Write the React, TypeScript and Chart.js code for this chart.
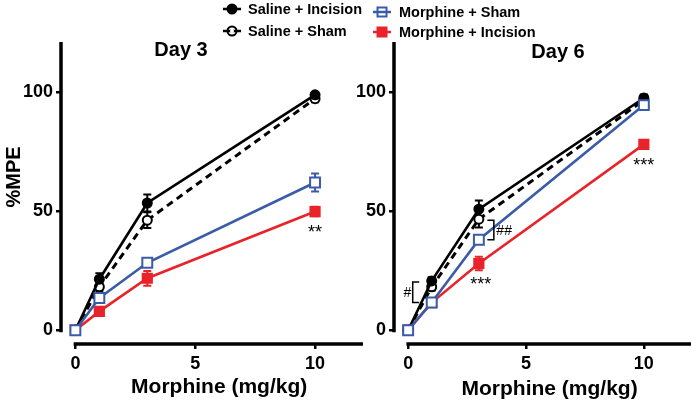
import React, { useEffect, useRef } from 'react';
import { Chart, registerables } from 'chart.js';

Chart.register(...registerables);

// ---------------- data ----------------
const doses = [0, 1, 3, 10];
const xTickValues = [0, 5, 10];
const yTickValues = [0, 50, 100];
const seriesLabels = ['Saline + Incision', 'Saline + Sham', 'Morphine + Sham', 'Morphine + Incision'];
const panelTitles = ['Day 3', 'Day 6'];
const xAxisTitle = 'Morphine (mg/kg)';
const yAxisTitle = '%MPE';

const day3SalineIncision = [0, 21.4, 53.4, 98.8];
const day3SalineIncisionSem = [0, 2.5, 3.6, 1.0];
const day3SalineSham = [0, 18.2, 46.2, 97.2];
const day3SalineShamSem = [0, 2.0, 3.3, 1.5];
const day3MorphineSham = [0, 13.5, 28.3, 62.0];
const day3MorphineShamSem = [0, 2.0, 1.5, 3.8];
const day3MorphineIncision = [0, 7.9, 21.8, 49.8];
const day3MorphineIncisionSem = [0, 1.2, 3.1, 2.0];

const day6SalineIncision = [0, 20.7, 50.8, 97.5];
const day6SalineIncisionSem = [0, 1.5, 3.7, 1.5];
const day6SalineSham = [0, 18.2, 46.6, 96.6];
const day6SalineShamSem = [0, 1.5, 3.5, 1.0];
const day6MorphineSham = [0, 11.6, 38.0, 94.5];
const day6MorphineShamSem = [0, 1.0, 1.5, 1.5];
const day6MorphineIncision = [0, 11.6, 28.0, 78.0];
const day6MorphineIncisionSem = [0, 1.0, 2.8, 1.0];

// significance marks under Morphine + Incision, one per dose
const day3Stars = ['', '', '', '**'];
const day6Stars = ['', '', '***', '***'];
// brackets: [dose index, upper series index, lower series index, label]
const day3Brackets: [number, number, number, string][] = [];
const day6Brackets: [number, number, number, string][] = [
  [1, 0, 2, '#'],
  [2, 1, 2, '##'],
];

// ---------------- styles ----------------
const BLUE = '#3a5ba8';
const RED = '#e8232a';
const FONT = '"Liberation Sans", Arial, Helvetica, sans-serif';
const X_MIN = -0.6;
const X_MAX = 12;
const Y_MIN = -5.8;
const Y_MAX = 121;

const seriesStyles = [
  { color: '#000', pointStyle: 'circle', radius: 4.5, fill: '#000', dash: [] as number[], lineWidth: 2.6, order: 1 },
  { color: '#000', pointStyle: 'circle', radius: 4.5, fill: '#fff', dash: [7, 5], lineWidth: 3, order: 2 },
  { color: BLUE, pointStyle: 'rect', radius: 7, fill: '#fff', dash: [] as number[], lineWidth: 2.6, order: 0 },
  { color: RED, pointStyle: 'rect', radius: 6.5, fill: RED, dash: [] as number[], lineWidth: 2.6, order: 3 },
];

type Panel = {
  title: string;
  values: number[][];
  sems: number[][];
  stars: string[];
  brackets: [number, number, number, string][];
  left: number;
  width: number;
  padRight: number;
  yAxisWidth: number;
  titleX: number;
  titleBaseline: number;
  xTitleBaseline: number;
  showYTitle: boolean;
  bracketSide: number[];
};

const panels: Panel[] = [
  {
    title: panelTitles[0],
    values: [day3SalineIncision, day3SalineSham, day3MorphineSham, day3MorphineIncision],
    sems: [day3SalineIncisionSem, day3SalineShamSem, day3MorphineShamSem, day3MorphineIncisionSem],
    stars: day3Stars,
    brackets: day3Brackets,
    left: 0,
    width: 380,
    padRight: 17,
    yAxisWidth: 61,
    titleX: 181,
    titleBaseline: 56,
    xTitleBaseline: 393,
    showYTitle: true,
    bracketSide: [],
  },
  {
    title: panelTitles[1],
    values: [day6SalineIncision, day6SalineSham, day6MorphineSham, day6MorphineIncision],
    sems: [day6SalineIncisionSem, day6SalineShamSem, day6MorphineShamSem, day6MorphineIncisionSem],
    stars: day6Stars,
    brackets: day6Brackets,
    left: 330,
    width: 370,
    padRight: 3,
    yAxisWidth: 64,
    titleX: 228,
    titleBaseline: 58,
    xTitleBaseline: 395,
    showYTitle: false,
    bracketSide: [-1, 1],
  },
];

function makePlugin(panel: Panel) {
  return {
    id: 'prismPanel',
    beforeDatasetsDraw(chart: any) {
      const { ctx, chartArea, scales } = chart;
      const x = scales.x;
      const y = scales.y;
      ctx.save();
      // axis lines
      ctx.strokeStyle = '#000';
      ctx.lineWidth = 3.5;
      ctx.beginPath();
      ctx.moveTo(chartArea.left, y.getPixelForValue(Y_MAX));
      ctx.lineTo(chartArea.left, y.getPixelForValue(0) + 2);
      ctx.moveTo(x.getPixelForValue(0) - 1.75, chartArea.bottom);
      ctx.lineTo(x.getPixelForValue(X_MAX), chartArea.bottom);
      ctx.stroke();
      // error bars
      chart.data.datasets.forEach((ds: any) => {
        const sem: number[] = ds.sem;
        ctx.strokeStyle = ds.borderColor;
        ctx.lineWidth = 2;
        ctx.setLineDash([]);
        ds.data.forEach((p: any, i: number) => {
          if (!sem[i]) return;
          const px = x.getPixelForValue(p.x);
          const top = y.getPixelForValue(p.y + sem[i]);
          const bot = y.getPixelForValue(p.y - sem[i]);
          const cap = 4;
          ctx.beginPath();
          ctx.moveTo(px, top);
          ctx.lineTo(px, bot);
          ctx.moveTo(px - cap, top);
          ctx.lineTo(px + cap, top);
          ctx.moveTo(px - cap, bot);
          ctx.lineTo(px + cap, bot);
          ctx.stroke();
        });
      });
      ctx.restore();
    },
    afterDraw(chart: any) {
      const { ctx, scales } = chart;
      const x = scales.x;
      const y = scales.y;
      ctx.save();
      ctx.fillStyle = '#000';
      // panel title
      ctx.font = `bold 20px ${FONT}`;
      ctx.textAlign = 'center';
      ctx.textBaseline = 'alphabetic';
      ctx.fillText(panel.title, panel.titleX, panel.titleBaseline);
      // x axis title
      ctx.font = `bold 21px ${FONT}`;
      ctx.fillText(xAxisTitle, x.getPixelForValue(6), panel.xTitleBaseline);
      // y axis title
      if (panel.showYTitle) {
        ctx.save();
        ctx.translate(20, 177);
        ctx.rotate(-Math.PI / 2);
        ctx.font = `bold 20px ${FONT}`;
        ctx.textAlign = 'center';
        ctx.fillText(yAxisTitle, 0, 0);
        ctx.restore();
      }
      // stars under Morphine + Incision
      ctx.font = `18px ${FONT}`;
      ctx.textAlign = 'center';
      const mi = panel.values[3];
      panel.stars.forEach((s, i) => {
        if (!s) return;
        const px = x.getPixelForValue(doses[i]) + (i === 2 ? 2 : 0);
        const py = y.getPixelForValue(mi[i]) + 16;
        ctx.fillText(s, px, py + 10.4);
      });
      // brackets
      ctx.strokeStyle = '#000';
      ctx.lineWidth = 1.5;
      ctx.font = `14px ${FONT}`;
      panel.brackets.forEach((b, k) => {
        const [di, hi, lo, label] = b;
        const side = panel.bracketSide[k];
        const px = x.getPixelForValue(doses[di]);
        const bx = side < 0 ? px - 19 : px + 15;
        const tick = side < 0 ? 6.5 : -6.5;
        const yTop = y.getPixelForValue(panel.values[hi][di]) + 1;
        const yBot = y.getPixelForValue(panel.values[lo][di]);
        ctx.beginPath();
        ctx.moveTo(bx + tick, yTop);
        ctx.lineTo(bx, yTop);
        ctx.lineTo(bx, yBot);
        ctx.lineTo(bx + tick, yBot);
        ctx.stroke();
        ctx.textAlign = side < 0 ? 'right' : 'left';
        const ty = (yTop + yBot) / 2 + 5;
        ctx.fillText(label, side < 0 ? bx - 1.5 : bx + 2.5, ty);
      });
      ctx.restore();
    },
  };
}

function makeConfig(panel: Panel): any {
  const datasets = panel.values.map((vals, si) => {
    const st = seriesStyles[si];
    return {
      label: seriesLabels[si],
      data: doses.map((d, i) => ({ x: d, y: vals[i] })),
      sem: panel.sems[si],
      order: st.order,
      showLine: true,
      borderColor: st.color,
      borderWidth: st.lineWidth,
      borderDash: st.dash,
      backgroundColor: st.fill,
      pointStyle: st.pointStyle,
      pointRadius: st.radius,
      pointBackgroundColor: st.fill,
      pointBorderColor: st.color,
      pointBorderWidth: 2,
      pointHoverRadius: st.radius,
      tension: 0,
      fill: false,
      clip: false,
    };
  });
  const tickFont = { family: FONT, size: 18, weight: 'bold' as const };
  const grid = {
    display: true,
    drawOnChartArea: false,
    drawTicks: true,
    tickLength: 5,
    color: '#000',
    lineWidth: 2.5,
  };
  return {
    type: 'line',
    data: { datasets },
    options: {
      animation: false,
      responsive: false,
      devicePixelRatio: 1,
      events: [],
      layout: { padding: { top: 42, right: panel.padRight, bottom: 0, left: 0 } },
      plugins: {
        legend: { display: false },
        tooltip: { enabled: false },
        title: { display: false },
      },
      scales: {
        x: {
          type: 'linear',
          min: X_MIN,
          max: X_MAX,
          afterBuildTicks: (s: any) => {
            s.ticks = xTickValues.map((v) => ({ value: v }));
          },
          afterFit: (s: any) => {
            s.height = 64;
          },
          grid,
          border: { display: false },
          ticks: { color: '#000', font: tickFont, padding: 4, maxRotation: 0, autoSkip: false },
        },
        y: {
          type: 'linear',
          min: Y_MIN,
          max: Y_MAX,
          afterBuildTicks: (s: any) => {
            s.ticks = yTickValues.map((v) => ({ value: v }));
          },
          afterFit: (s: any) => {
            s.width = panel.yAxisWidth;
          },
          grid,
          border: { display: false },
          ticks: { color: '#000', font: tickFont, padding: 3, autoSkip: false },
        },
      },
    },
    plugins: [makePlugin(panel)],
  };
}

function PanelChart({ panel }: { panel: Panel }) {
  const ref = useRef<HTMLCanvasElement>(null);
  useEffect(() => {
    if (!ref.current) return;
    const chart = new Chart(ref.current, makeConfig(panel));
    return () => chart.destroy();
  }, [panel]);
  return (
    <canvas
      ref={ref}
      width={panel.width}
      height={408}
      style={{ position: 'absolute', left: panel.left, top: 0, width: panel.width, height: 408 }}
    />
  );
}

function LegendMarker({ si }: { si: number }) {
  const st = seriesStyles[si];
  const isRect = st.pointStyle === 'rect';
  return (
    <svg width={18} height={14} style={{ display: 'block' }}>
      {isRect ? (
        <rect x={4.5} y={2.5} width={9} height={9} fill={st.fill} stroke={st.color} strokeWidth={2} />
      ) : (
        <circle cx={9} cy={7} r={4.5} fill={st.fill} stroke={st.color} strokeWidth={2} />
      )}
      <line x1={0} y1={7} x2={18} y2={7} stroke={st.color} strokeWidth={2.5} />
      {!isRect && st.fill === '#fff' ? <circle cx={9} cy={7} r={2} fill="#fff" /> : null}
    </svg>
  );
}

const legendPlacement = [
  { markerX: 223, textX: 248, cy: 9 },
  { markerX: 223, textX: 248, cy: 31 },
  { markerX: 373, textX: 399, cy: 12 },
  { markerX: 373, textX: 399, cy: 32 },
];

export default function App() {
  return (
    <div style={{ position: 'absolute', left: 0, top: 0, width: 700, height: 408, background: '#fff', overflow: 'hidden' }}>
      {panels.map((p, i) => (
        <PanelChart key={i} panel={p} />
      ))}
      {seriesLabels.map((label, si) => {
        const pl = legendPlacement[si];
        return (
          <React.Fragment key={label}>
            <div style={{ position: 'absolute', left: pl.markerX, top: pl.cy - 7 }}>
              <LegendMarker si={si} />
            </div>
            <div
              style={{
                position: 'absolute',
                left: pl.textX,
                top: pl.cy - 9,
                font: `bold 14.5px ${FONT}`,
                lineHeight: '18px',
                whiteSpace: 'nowrap',
                color: '#000',
              }}
            >
              {label}
            </div>
          </React.Fragment>
        );
      })}
    </div>
  );
}
